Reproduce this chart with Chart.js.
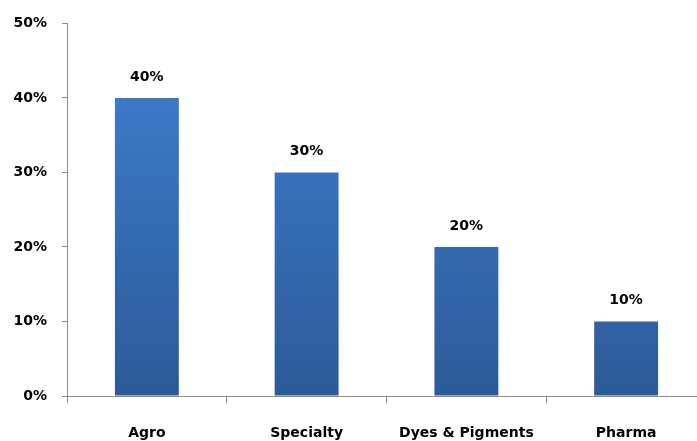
<!DOCTYPE html>
<html>
<head>
<meta charset="utf-8">
<script src="https://cdn.jsdelivr.net/npm/chart.js@4/dist/chart.umd.min.js"></script>
<style>
  html, body { margin: 0; padding: 0; background: #fff; overflow: hidden; }
  #wrap { width: 697px; height: 441px; overflow: hidden; position: relative; background: #fff; }
  #box { position: absolute; left: 0; top: 0; width: 712px; height: 452px; }
</style>
</head>
<body>
<div id="wrap"><div id="box"><canvas id="myChart"></canvas></div></div>
<script>
const categories = ["Agro", "Specialty", "Dyes & Pigments", "Pharma"];
const shares = [40, 30, 20, 10];
const yTicks = [0, 10, 20, 30, 40, 50];

const FONT = "'DejaVu Sans', Verdana, sans-serif";

// value labels drawn above each bar
const barLabels = {
    id: "barLabels",
    afterDatasetsDraw(chart) {
        const ctx = chart.ctx;
        const meta = chart.getDatasetMeta(0);
        ctx.save();
        ctx.font = "bold 14px " + FONT;
        ctx.fillStyle = "#000";
        ctx.textAlign = "center";
        ctx.textBaseline = "alphabetic";
        meta.data.forEach((bar, i) => {
            ctx.fillText(shares[i] + "%", bar.x, bar.y - 17);
        });
        ctx.restore();
    }
};

function barGradient(context) {
    const area = context.chart.chartArea;
    if (!area) return "#3570b8";
    const g = context.chart.ctx.createLinearGradient(0, area.top, 0, area.bottom);
    g.addColorStop(0, "#3f80d2");
    g.addColorStop(1, "#2c5a98");
    return g;
}

const ctx = document.getElementById("myChart").getContext("2d");

new Chart(ctx, {
    type: "bar",
    data: {
        labels: categories,
        datasets: [{
            data: shares,
            backgroundColor: barGradient,
            borderWidth: 0,
            barPercentage: 0.4,
            categoryPercentage: 1.0
        }]
    },
    options: {
        responsive: true,
        maintainAspectRatio: false,
        animation: false,
        layout: { padding: { top: 20, right: 6, left: 0, bottom: 0 } },
        plugins: {
            legend: { display: false },
            tooltip: { enabled: false }
        },
        scales: {
            x: {
                afterFit: s => { s.height = 56; },
                border: { color: "#8c8c8c", width: 1 },
                grid: { drawOnChartArea: false, drawTicks: true, tickLength: 7, color: "#8c8c8c", offset: true },
                ticks: {
                    color: "#000",
                    padding: 22,
                    font: { family: FONT, size: 14, weight: "bold" }
                }
            },
            y: {
                min: 0,
                max: 50,
                afterFit: s => { s.width = 67; },
                afterBuildTicks: s => { s.ticks = yTicks.map(v => ({ value: v })); },
                border: { color: "#8c8c8c", width: 1 },
                grid: { drawOnChartArea: false, drawTicks: true, tickLength: 5, color: "#8c8c8c" },
                ticks: {
                    color: "#000",
                    padding: 15,
                    font: { family: FONT, size: 14, weight: "bold" },
                    callback: v => v + "%"
                }
            }
        }
    },
    plugins: [barLabels]
});
</script>
</body>
</html>
